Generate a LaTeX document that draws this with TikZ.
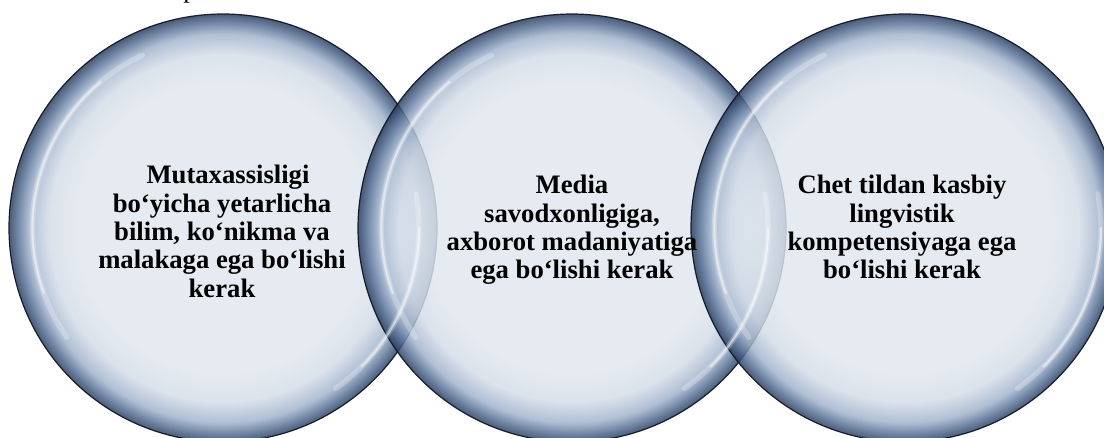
\documentclass[tikz,border=0pt]{standalone}
\usepackage{fontspec}
\setmainfont{Liberation Serif}
\definecolor{bcA}{RGB}{224,231,238}
\definecolor{bcB}{RGB}{212,221,232}
\definecolor{bcC}{RGB}{160,178,204}
\definecolor{bcD}{RGB}{84,110,148}
\definecolor{bcE}{RGB}{36,56,90}
\definecolor{rimline}{RGB}{16,24,40}
\pgfdeclareradialshading{bubbleshade}{\pgfpoint{0bp}{0bp}}{color(0bp)=(bcA); color(17bp)=(bcA); color(20.3bp)=(bcB); color(22.7bp)=(bcC); color(24bp)=(bcD); color(25bp)=(bcE); color(50bp)=(bcE)}
\tikzset{
  bubble/.style={circle, inner sep=0pt, minimum size=321pt, shading=bubbleshade,
    fill opacity=0.82, draw=rimline, draw opacity=0.95, line width=0.9pt},
  glint/.style={white, line cap=round},
  label/.style={inner sep=0pt, align=center, text=black,
    font=\bfseries\fontsize{20}{21.3}\selectfont},
}
\begin{document}
\begin{tikzpicture}[x=0.75pt, y=-0.75pt]
\clip (0,0) rectangle (1104,437);
\fill[white] (0,0) rectangle (1104,437);
\node[inner sep=0pt, anchor=base, font=\fontsize{20}{22}\selectfont] (frag) at (190,-3) {p};
% circles
\node[bubble] (c1) at (223,228) {};
\node[bubble] (c2) at (572,228) {};
\node[bubble] (c3) at (905,228) {};
% glossy highlights
\foreach \c in {c1,c2,c3}{
  \draw[glint, line width=4pt, opacity=0.25] ([shift={(115:143pt)}]\c.center) arc[start angle=115, end angle=215, radius=143pt];
  \draw[glint, line width=1.6pt, opacity=0.5] ([shift={(130:143pt)}]\c.center) arc[start angle=130, end angle=200, radius=143pt];
  \draw[glint, line width=4pt, opacity=0.25] ([shift={(-55:147pt)}]\c.center) arc[start angle=-55, end angle=10, radius=147pt];
  \draw[glint, line width=1.6pt, opacity=0.5] ([shift={(-45:147pt)}]\c.center) arc[start angle=-45, end angle=0, radius=147pt];
}
% texts
\node[label, anchor=north] (t1) at (222,165) {\hspace*{9pt}Mutaxassisligi\\bo‘yicha yetarlicha\\bilim, ko‘nikma va\\malakaga ega bo‘lishi\\kerak};
\node[label, anchor=north] (t2) at (572,175) {Media\\savodxonligiga,\\axborot madaniyatiga\\ega bo‘lishi kerak};
\node[label, anchor=north] (t3) at (902,175) {Chet tildan kasbiy\\lingvistik\\kompetensiyaga ega\\bo‘lishi kerak};
\end{tikzpicture}
\end{document}
